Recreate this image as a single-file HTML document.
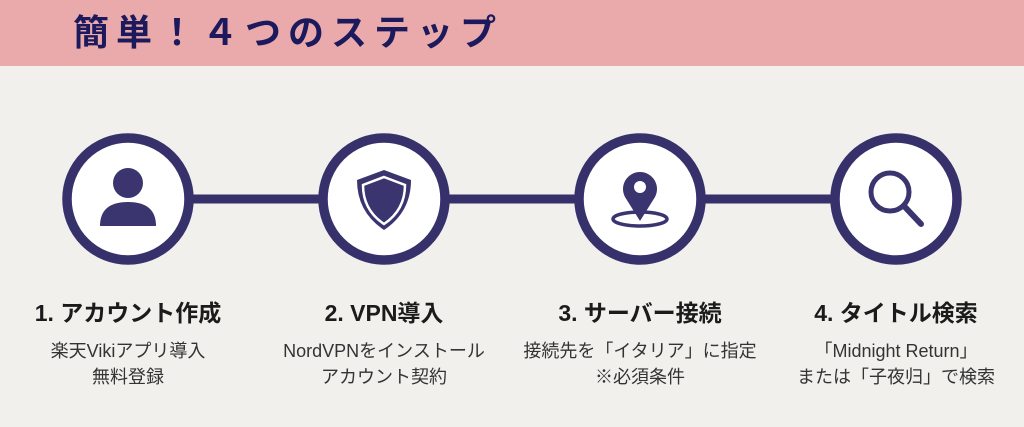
<!DOCTYPE html>
<html><head><meta charset="utf-8"><style>
body{margin:0;width:1024px;height:427px;background:#f1f0ec;position:relative;overflow:hidden;font-family:"Liberation Sans","Noto Sans CJK JP",sans-serif}
.band{position:absolute;left:0;top:0;width:1024px;height:66px;background:#eaaaab}
.title{position:absolute;left:73px;top:8px;font-size:36px;font-weight:bold;color:#1c1a5c;letter-spacing:7px;white-space:nowrap;line-height:50px}
.lbl{position:absolute;width:256px;text-align:center}
.h{font-size:23px;font-weight:bold;color:#1b1b1b;top:294px}
.s{font-size:18px;color:#333;top:338px;line-height:26px}
</style></head><body>
<div class="band"></div>
<div class="title">簡単！４つのステップ</div>
<svg width="1024" height="427" style="position:absolute;left:0;top:0">
<line x1="128" y1="199" x2="896" y2="199" stroke="#37316b" stroke-width="9"/>
<g fill="#fff" stroke="#37316b" stroke-width="9.5">
<circle cx="128" cy="199" r="61"/><circle cx="384" cy="199" r="61"/><circle cx="640" cy="199" r="61"/><circle cx="896" cy="199" r="61"/>
</g>
<g fill="#3a346f">
<circle cx="128" cy="183" r="15"/>
<path d="M100 226 Q100 202 128 202 Q156 202 156 226 Z"/>
<path d="M384 170 L411 180 Q411 212 384 230 Q357 212 357 180 Z"/>
</g>
<path d="M384 177 L405 185 Q405 210 384 224 Q363 210 363 185 Z" fill="none" stroke="#fff" stroke-width="2.5"/>
<ellipse cx="640" cy="219" rx="27" ry="7" fill="none" stroke="#3a346f" stroke-width="3.5"/>
<path d="M640 221 L625 197 A17 17 0 1 1 655 197 Z" fill="#3a346f"/>
<circle cx="640" cy="187" r="6" fill="#fff"/>
<circle cx="890" cy="192" r="19" fill="none" stroke="#3a346f" stroke-width="5"/>
<line x1="904" y1="206" x2="921" y2="224" stroke="#3a346f" stroke-width="6" stroke-linecap="round"/>
</svg>
<div class="lbl h" style="left:0">1. アカウント作成</div>
<div class="lbl s" style="left:0">楽天Vikiアプリ導入<br>無料登録</div>
<div class="lbl h" style="left:256px">2. VPN導入</div>
<div class="lbl s" style="left:256px">NordVPNをインストール<br>アカウント契約</div>
<div class="lbl h" style="left:512px">3. サーバー接続</div>
<div class="lbl s" style="left:512px">接続先を「イタリア」に指定<br>※必須条件</div>
<div class="lbl h" style="left:768px">4. タイトル検索</div>
<div class="lbl s" style="left:768px">「Midnight Return」<br>または「子夜归」で検索</div>
</body></html>
